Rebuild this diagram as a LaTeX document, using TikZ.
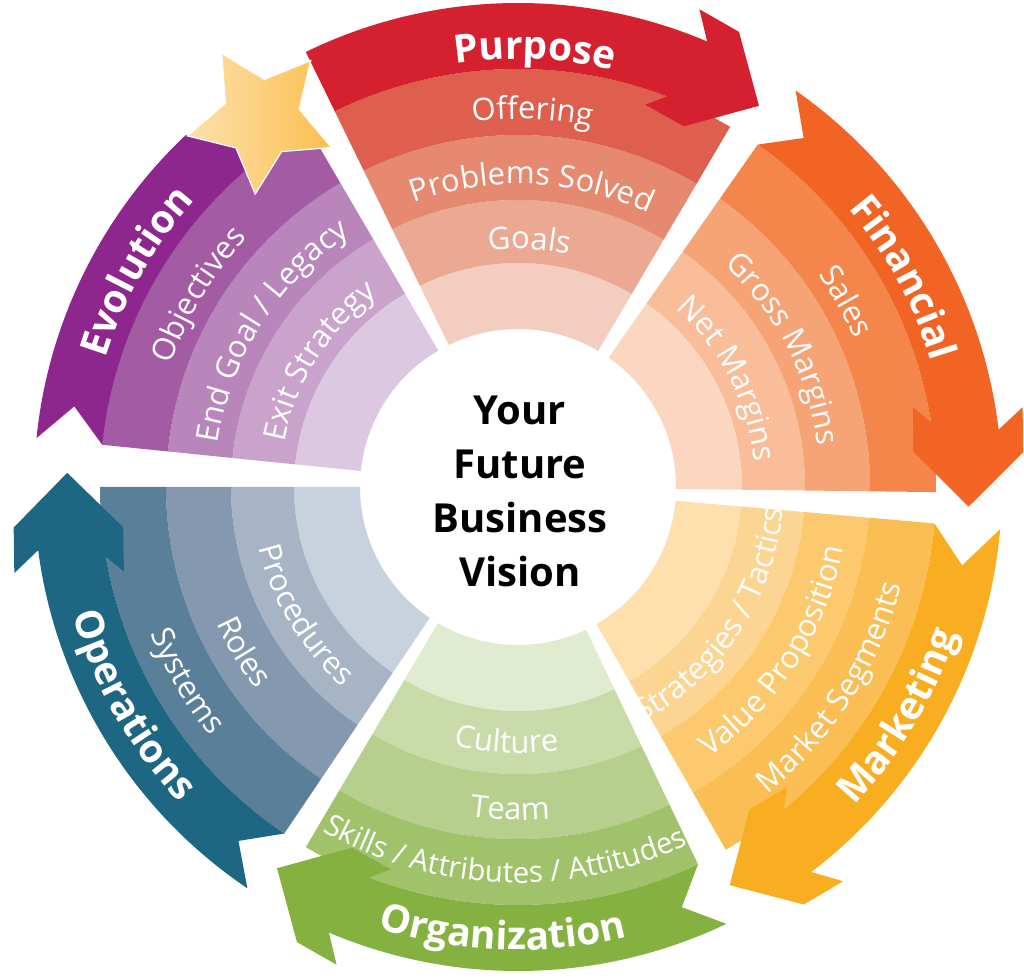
\documentclass[tikz,border=0pt]{standalone}
\usepackage{fontspec}
\setmainfont{Open Sans}
\newfontfamily\visionfont{Open Sans}
% Purpose
\definecolor{pA}{HTML}{D52030}\definecolor{p4}{HTML}{DE5F4E}\definecolor{p3}{HTML}{E58970}\definecolor{p2}{HTML}{EBA893}\definecolor{p1}{HTML}{F3CEC0}
% Financial
\definecolor{fA}{HTML}{F26424}\definecolor{f4}{HTML}{F4864C}\definecolor{f3}{HTML}{F6A476}\definecolor{f2}{HTML}{F9BD99}\definecolor{f1}{HTML}{FBD7C2}
% Marketing
\definecolor{mA}{HTML}{F9AE22}\definecolor{m4}{HTML}{FBBE55}\definecolor{m3}{HTML}{FCC96F}\definecolor{m2}{HTML}{FDD592}\definecolor{m1}{HTML}{FEE0AD}
% Organization
\definecolor{oA}{HTML}{85B140}\definecolor{o4}{HTML}{A0C26B}\definecolor{o3}{HTML}{B6CF8C}\definecolor{o2}{HTML}{C9DBA9}\definecolor{o1}{HTML}{E0EBD0}
% Operations
\definecolor{qA}{HTML}{1E6783}\definecolor{q4}{HTML}{5A7F98}\definecolor{q3}{HTML}{8499AF}\definecolor{q2}{HTML}{A6B4C5}\definecolor{q1}{HTML}{C8D1DE}
% Evolution
\definecolor{eA}{HTML}{8E278D}\definecolor{e4}{HTML}{A35BA4}\definecolor{e3}{HTML}{B886BB}\definecolor{e2}{HTML}{C9A3CB}\definecolor{e1}{HTML}{DDC8E2}
% star
\definecolor{sL}{HTML}{FDE0AE}\definecolor{sM}{HTML}{F6A418}\definecolor{sR}{HTML}{FBC050}

\newcommand{\lbl}{\normalfont\fontsize{31}{36}\selectfont\color{white}}
\newcommand{\lbls}{\normalfont\fontsize{29.5}{34}\selectfont\color{white}}
\newcommand{\hdr}{\normalfont\fontsize{39}{44}\selectfont\bfseries\color{white}}

\newcommand{\ringseg}[5]{\fill[#1] (#2:#4) arc[start angle=#2,end angle=#3,radius=#4] -- (#3:#5) arc[start angle=#3,end angle=#2,radius=#5] -- cycle;}
\newcommand{\sectorrings}[6]{%
  \ringseg{#3}{#1}{#2}{158}{224}\ringseg{#4}{#1}{#2}{224}{287}%
  \ringseg{#5}{#1}{#2}{287}{352}\ringseg{#6}{#1}{#2}{352}{418}}
\newcommand{\arrowband}[4]{%
  \fill[#1] (#3:484) arc[start angle=#3,end angle={#2+7.5},radius=484]
    -- ({#2+9.7}:511) -- ({#2+4.6}:506) -- ({#2-1.8}:451) -- ({#2+5.8}:397)
    -- ({#2+12.1}:403) -- ({#2+9.6}:418) arc[start angle={#2+9.6},end angle=#3,radius=418]
    -- ({#3-#4}:451) -- cycle;}

\makeatletter
\newlength\arcW \newlength\chW \newdimen\arcacc \newdimen\arcoff
\def\arc@tilde{~}
% measure a text letter by letter (outside the picture): #1 name, #2 font, #3 text (~ = space)
\newcommand{\arcprep}[3]{%
  \let\arc@item\relax
  \arcacc=0pt
  \@tfor\arcch:=#3\do{\settowidth\chW{#2\arcch}\advance\arcacc by \chW}%
  \arcW=\arcacc
  \arcacc=0pt
  \gdef\arc@list{}%
  \@tfor\arcch:=#3\do{%
    \settowidth\chW{#2\arcch}%
    \ifx\arcch\arc@tilde\else
      \arcoff=\arcacc \advance\arcoff by 0.5\chW \advance\arcoff by -0.5\arcW
      \xdef\arc@list{\arc@list\noexpand\arc@item{\arcch}{\strip@pt\arcoff}}%
    \fi
    \advance\arcacc by \chW}%
  \expandafter\global\expandafter\let\csname arcl@#1\endcsname\arc@list}
% place it along an arc: #1 name, #2 centre angle, #3 baseline radius, #4 sign (1 cw, -1 ccw), #5 font
\newcommand{\arcplace}[5]{%
  \def\arc@item##1##2{%
    \pgfmathsetmacro\arcth{#2-(#4)*(##2)/#3*57.29578}%
    \pgfmathsetmacro\arcrot{\arcth-(#4)*90}%
    \node[rotate=\arcrot,anchor=base,inner sep=0pt,outer sep=0pt] at (\arcth:#3) {#5##1};}%
  \csname arcl@#1\endcsname}
\makeatother

\begin{document}
\arcprep{puA}{\hdr}{Purpose}
\arcprep{pu4}{\lbl}{Offering}
\arcprep{pu3}{\lbl}{Problems~Solved}
\arcprep{pu2}{\lbl}{Goals}
\arcprep{fiA}{\hdr}{Financial}
\arcprep{fi4}{\lbl}{Sales}
\arcprep{fi3}{\lbl}{Gross~Margins}
\arcprep{fi2}{\lbl}{Net~Margins}
\arcprep{evA}{\hdr}{Evolution}
\arcprep{ev4}{\lbl}{Objectives}
\arcprep{ev3}{\lbl}{End~Goal~/~Legacy}
\arcprep{ev2}{\lbl}{Exit~Strategy}
\arcprep{maA}{\hdr}{Marketing}
\arcprep{ma4}{\lbl}{Market~Segments}
\arcprep{ma3}{\lbl}{Value~Proposition}
\arcprep{ma2}{\lbl}{Strategies~/~Tactics}
\arcprep{orA}{\hdr}{Organization}
\arcprep{or4}{\lbls}{Skills~/~Attributes~/~Attitudes}
\arcprep{or3}{\lbl}{Team}
\arcprep{or2}{\lbl}{Culture}
\arcprep{opA}{\hdr}{Operations}
\arcprep{op4}{\lbl}{Systems}
\arcprep{op3}{\lbl}{Roles}
\arcprep{op2}{\lbl}{Procedures}
\begin{tikzpicture}[x=1pt,y=1pt]
\useasboundingbox (0,0) rectangle (1024,978);
\fill[white] (0,0) rectangle (1024,978);
\begin{scope}[shift={(518,491)}]
% inner rings
\sectorrings{59.5}{116}{p1}{p2}{p3}{p4}
\sectorrings{120.3}{174.2}{e1}{e2}{e3}{e4}
\sectorrings{180}{236}{q1}{q2}{q3}{q4}
\sectorrings{239.5}{295.5}{o1}{o2}{o3}{o4}
\sectorrings{299.8}{355}{m1}{m2}{m3}{m4}
\sectorrings{359.3}{415}{f1}{f2}{f3}{f4}
% arrow bands
\arrowband{pA}{59.5}{116}{0}
\arrowband{qA}{180}{236}{4.3}
\arrowband{oA}{239.5}{295.5}{4.2}
\arrowband{mA}{299.8}{355}{5}
\arrowband{fA}{359.3}{415}{4.3}
\fill[eA] (174.2:484) arc[start angle=174.2,end angle=133.3,radius=484]
  -- (-330.6,351.1) -- (-282.1,339.1) -- (-272.6,316.5)
  arc[start angle=130.74,end angle=174.2,radius=418] -- (169.7:451) -- cycle;
% star
\begin{scope}[shift={(-256.7,368.7)}]
\shadedraw[left color=sL,middle color=sM,right color=sR,draw=white,line width=1.2pt]
  (121.4:76) -- (157.4:39) -- (193.4:76) -- (229.4:39) -- (265.4:76) -- (301.4:39)
  -- (337.4:76) -- (13.4:39) -- (49.4:76) -- (85.4:39) -- cycle;
\end{scope}
% labels: Purpose
\arcplace{puA}{87.8}{428}{1}{\hdr}
\arcplace{pu4}{87.8}{368}{1}{\lbl}
\arcplace{pu3}{87.3}{303}{1}{\lbl}
\arcplace{pu2}{87.3}{238}{1}{\lbl}
% Financial
\arcplace{fiA}{28.5}{432}{1}{\hdr}
\arcplace{fi4}{29.5}{368}{1}{\lbl}
\arcplace{fi3}{27.5}{303}{1}{\lbl}
\arcplace{fi2}{27.3}{238}{1}{\lbl}
% Evolution
\arcplace{evA}{150.5}{432}{1}{\hdr}
\arcplace{ev4}{149}{368}{1}{\lbl}
\arcplace{ev3}{147.7}{303}{1}{\lbl}
\arcplace{ev2}{147.7}{238}{1}{\lbl}
% Marketing
\arcplace{maA}{-31}{463}{-1}{\hdr}
\arcplace{ma4}{-32.6}{396}{-1}{\lbl}
\arcplace{ma3}{-32.7}{331}{-1}{\lbl}
\arcplace{ma2}{-33.5}{266}{-1}{\lbl}
% Organization
\arcplace{orA}{-92}{463}{-1}{\hdr}
\arcplace{or4}{-92.1}{396}{-1}{\lbls}
\arcplace{or3}{-91.4}{333}{-1}{\lbl}
\arcplace{or2}{-92.5}{266}{-1}{\lbl}
% Operations
\arcplace{opA}{209.5}{463}{-1}{\hdr}
\arcplace{op4}{210.4}{396}{-1}{\lbl}
\arcplace{op3}{211}{331}{-1}{\lbl}
\arcplace{op2}{211}{266}{-1}{\lbl}
% centre
\node[align=center,font=\visionfont\fontsize{40}{54}\selectfont\bfseries,text=black,inner sep=0pt] (vision) at (2,-4) {Your\\Future\\Business\\Vision};
\end{scope}
\end{tikzpicture}
\end{document}
